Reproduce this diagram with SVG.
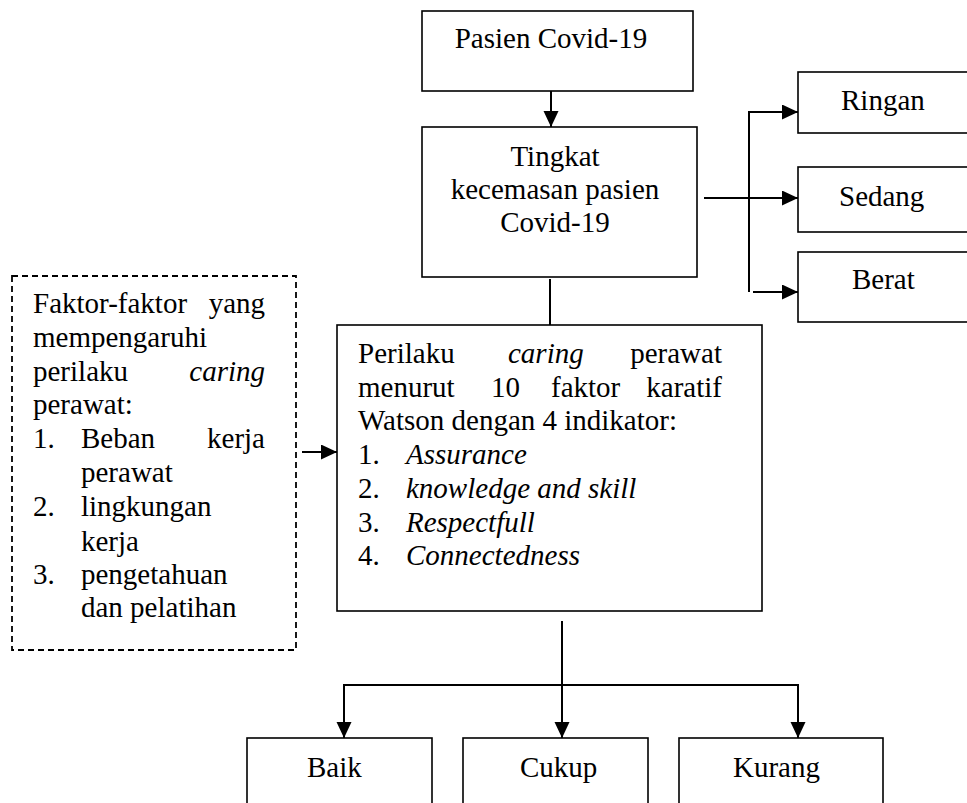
<svg xmlns="http://www.w3.org/2000/svg" width="967" height="803" viewBox="0 0 967 803" font-family="'Liberation Serif', 'Times New Roman', Times, 'DejaVu Serif', serif">
<style>
text{font-family:'Liberation Serif','Times New Roman',Times,'DejaVu Serif',serif;font-size:29px;fill:#000}
.i{font-style:italic}
.box{fill:#fff;stroke:#000;stroke-width:1.6}
.dash{fill:#fff;stroke:#000;stroke-width:1.8;stroke-dasharray:6 4}
.c{fill:none;stroke:#000;stroke-width:2}
.e{text-anchor:end}
.m{text-anchor:middle}
</style>
<defs>
<marker id="ah" markerUnits="userSpaceOnUse" markerWidth="18" markerHeight="16" refX="16" refY="7.5" orient="auto">
<path d="M0,0 L16,7.5 L0,15 Z" fill="#000"/>
</marker>
</defs>
<rect width="967" height="803" fill="#fff"/>
<g id="connectors">
<line class="c" x1="551" y1="91" x2="551" y2="127" marker-end="url(#ah)"/>
<line class="c" x1="550" y1="279" x2="550" y2="325"/>
<line class="c" x1="704" y1="198" x2="798" y2="198" marker-end="url(#ah)"/>
<polyline class="c" points="749,292 749,112 798,112" marker-end="url(#ah)"/>
<line class="c" x1="753" y1="292" x2="798" y2="292" marker-end="url(#ah)"/>
<line class="c" x1="302" y1="452" x2="337" y2="452" marker-end="url(#ah)"/>
<line class="c" x1="562" y1="621" x2="562" y2="738" marker-end="url(#ah)"/>
<polyline class="c" points="344,738 344,685 798,685 798,738"/>
<line class="c" x1="344" y1="700" x2="344" y2="738" marker-end="url(#ah)"/>
<line class="c" x1="798" y1="700" x2="798" y2="738" marker-end="url(#ah)"/>
</g>
<g id="pasien">
<rect class="box" x="422" y="11" width="271" height="80"/>
<text x="551" y="48" class="m">Pasien Covid-19</text>
</g>
<g id="tingkat">
<rect class="box" x="422" y="127" width="275" height="150"/>
<text x="555" y="166" class="m">Tingkat</text>
<text x="555" y="199" class="m">kecemasan pasien</text>
<text x="555" y="232" class="m">Covid-19</text>
</g>
<g id="ringan">
<rect class="box" x="798" y="72" width="180" height="61"/>
<text x="841" y="110">Ringan</text>
</g>
<g id="sedang">
<rect class="box" x="798" y="167" width="180" height="65"/>
<text x="839" y="206">Sedang</text>
</g>
<g id="berat">
<rect class="box" x="798" y="252" width="180" height="70"/>
<text x="852" y="289">Berat</text>
</g>
<g id="faktor">
<rect class="dash" x="12" y="276" width="284" height="374"/>
<text x="33" y="313">Faktor-faktor</text><text x="265" y="313" class="e">yang</text>
<text x="33" y="347">mempengaruhi</text>
<text x="33" y="381">perilaku</text><text x="265" y="381" class="e i">caring</text>
<text x="33" y="414">perawat:</text>
<text x="33" y="448">1.</text><text x="81" y="448">Beban</text><text x="265" y="448" class="e">kerja</text>
<text x="81" y="482">perawat</text>
<text x="33" y="516">2.</text><text x="81" y="516">lingkungan</text>
<text x="81" y="551">kerja</text>
<text x="33" y="584">3.</text><text x="81" y="584">pengetahuan</text>
<text x="81" y="617">dan pelatihan</text>
</g>
<g id="perilaku">
<rect class="box" x="337" y="325" width="425" height="286"/>
<text x="358" y="363">Perilaku</text><text x="508" y="363" class="i">caring</text><text x="722" y="363" class="e">perawat</text>
<text x="358" y="397">menurut</text><text x="491" y="397">10</text><text x="551" y="397">faktor</text><text x="722" y="397" class="e">karatif</text>
<text x="358" y="430">Watson dengan 4 indikator:</text>
<text x="358" y="464">1.</text><text x="406" y="464" class="i">Assurance</text>
<text x="358" y="498">2.</text><text x="406" y="498" class="i">knowledge and skill</text>
<text x="358" y="532">3.</text><text x="406" y="532" class="i">Respectfull</text>
<text x="358" y="565">4.</text><text x="406" y="565" class="i">Connectedness</text>
</g>
<g id="baik">
<rect class="box" x="247" y="738" width="185" height="80"/>
<text x="307" y="777">Baik</text>
</g>
<g id="cukup">
<rect class="box" x="463" y="738" width="185" height="80"/>
<text x="520" y="777">Cukup</text>
</g>
<g id="kurang">
<rect class="box" x="679" y="738" width="204" height="80"/>
<text x="733" y="777">Kurang</text>
</g>
</svg>
